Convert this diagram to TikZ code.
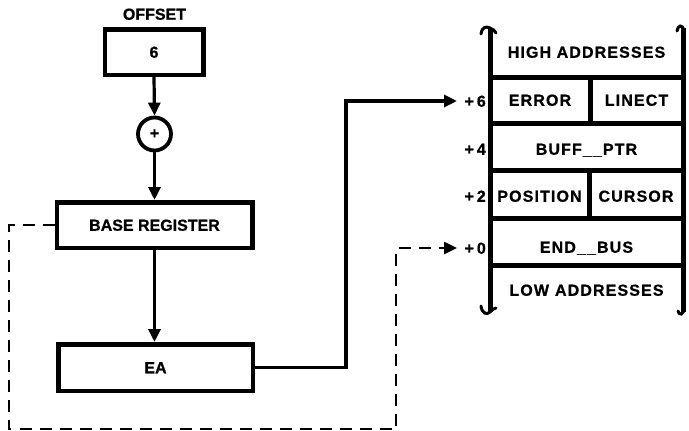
\documentclass[tikz,border=0pt]{standalone}
\usepackage{fontspec}
\setmainfont{Liberation Sans}[BoldFeatures={FakeBold=0.8}]
\newfontfamily\memfont[LetterSpace=7,BoldFeatures={FakeBold=0.8}]{Liberation Sans}
\usetikzlibrary{arrows.meta}
\begin{document}
\begin{tikzpicture}[x=1pt,y=-1pt,
  font=\bfseries\fontsize{16}{18}\selectfont,
  regbox/.style={draw, line width=4.5pt, inner sep=0pt, text height=11.5pt, text depth=0pt},
  arr/.style={line width=3.2pt, line join=miter, -{Triangle[length=13pt,width=12pt]}},
  dashline/.style={line width=2.5pt, dash pattern=on 12pt off 8pt, -{Triangle[length=13pt,width=12pt]}},
  memline/.style={line width=5pt},
  memtxt/.style={inner sep=0pt, text height=11.5pt, text depth=0pt, font=\memfont\bfseries\fontsize{16}{18}\selectfont},
  offs/.style={anchor=east, inner sep=0pt, text height=11.5pt, text depth=0pt},
  tip/.style={line width=3pt, line cap=round}
]
\useasboundingbox (0,0) rectangle (689,431);

% left column
\node[inner sep=0pt, text height=11.5pt, text depth=0pt] (offset) at (154.5,14) {OFFSET};
\node[regbox, minimum width=98.5pt, minimum height=45.5pt] (six) at (154,52) {6};
\node[circle, draw, line width=3.8pt, minimum size=33pt, inner sep=0pt] (sum) at (154.5,134) {+};
\node[regbox, minimum width=195.5pt, minimum height=45.5pt] (base) at (154.5,225) {BASE REGISTER};
\node[regbox, minimum width=194.5pt, minimum height=46.5pt] (ea) at (155.5,367.5) {EA};

\draw[arr] (six.south) -- (sum.north);
\draw[arr] (sum.south) -- (base.north);
\draw[arr] (base.south) -- (base.south |- ea.north);

% memory block
\draw[memline] (490,28) -- (490,312);
\draw[memline] (683,28) -- (683,312);
\foreach \yy in {77,123,170,218,265} \draw[memline] (490,\yy) -- (683,\yy);
\draw[memline] (590,77) -- (590,123);
\draw[memline] (589,170) -- (589,218);

% bracket ends
\draw[tip] (481,34) .. controls (482,27) and (486,26) .. (490,28) .. controls (493,29) and (495,31) .. (496,33);
\draw[tip] (677,31) .. controls (678,25) and (682,24) .. (684,30);
\draw[tip] (481,306) .. controls (482,314) and (487,315) .. (490,312) .. controls (492,310) and (494,308) .. (496,308);
\draw[tip] (684,308) .. controls (684,315) and (679,316) .. (678,311);

\node[memtxt] (high) at (586.5,52) {HIGH ADDRESSES};
\node[memtxt] (error) at (540,100) {ERROR};
\node[memtxt] (linect) at (636.5,100) {LINECT};
\node[memtxt] (buff) at (586.5,149) {BUFF\_\_PTR};
\node[memtxt] (position) at (539.5,196) {POSITION};
\node[memtxt] (cursor) at (636,196) {CURSOR};
\node[memtxt] (endbus) at (586.5,247) {END\_\_BUS};
\node[memtxt] (low) at (586.5,290) {LOW\hspace{6pt}ADDRESSES};

\node[offs] (o6) at (486,101) {+\hspace{3pt}6};
\node[offs] (o4) at (486,149) {+\hspace{3pt}4};
\node[offs] (o2) at (486,196) {+\hspace{3pt}2};
\node[offs] (o0) at (486,248) {+\hspace{3pt}0};

% connectors
\coordinate (j1) at (346,101);
\coordinate (p6) at (457,101);
\draw[arr] (ea.east) -| (j1) -- (p6);

\coordinate (d2) at (9,429);
\coordinate (d3) at (396,429);
\coordinate (p0) at (457,248);
\draw[dashline] (base.west) -| (d2) -- (d3) |- (p0);
\end{tikzpicture}
\end{document}
